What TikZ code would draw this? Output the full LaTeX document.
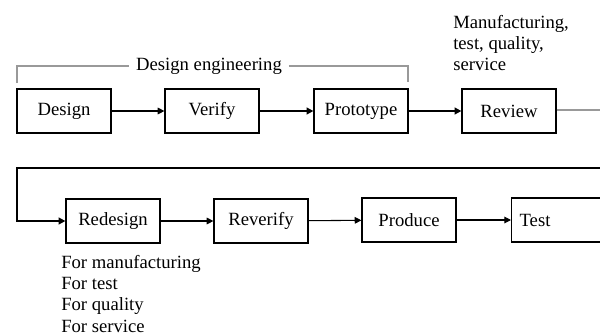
\documentclass[tikz,border=0pt]{standalone}
\usepackage{fontspec}
\setmainfont{Liberation Serif}
\usetikzlibrary{arrows.meta}
\usetikzlibrary{positioning}
\begin{document}
\begin{tikzpicture}[x=0.75pt,y=0.75pt,yscale=-1,xscale=1,
	stagebox/.style={draw, line width=0.9pt, minimum width=70.5pt, minimum height=33pt, inner sep=2pt, font=\fontsize{14}{16}\selectfont},
	flow/.style={line width=0.8pt, -{Triangle[length=5pt,width=5pt]}},
	boldflow/.style={line width=1.5pt, -{Triangle[length=5pt,width=5pt]}},
	greyline/.style={draw=gray!80, line width=0.9pt},
	note/.style={align=left, inner sep=0pt, font=\fontsize{14}{16}\selectfont}]
		\useasboundingbox (0,0) rectangle (600,333);
		
		%First row
		\node[stagebox] (Design) at (64,111) {Design};
		\node[stagebox] (Verify) at (212,111) {Verify};
		\node[stagebox] (Prototype) at (361,111) {Prototype};
		\node[stagebox] (Review) at (509,111) {Review};
		
		\draw[flow] (Design) -- (Verify);
		\draw[boldflow] (Verify) -- (Prototype);
		\draw[boldflow] (Prototype) -- (Review);
		
		%Bracket over the design steps
		\node[inner sep=5pt, font=\fontsize{14}{16}\selectfont] (DesignEng) at (209,66) {Design engineering};
		\draw[greyline] (17,83) |- (DesignEng.west);
		\draw[greyline] (DesignEng.east) -| (408,82);
		
		%base of a multi-line node = its last line
		\node[note, anchor=base west] (ReviewNote) at (453,70) {Manufacturing,\\[-0.5pt]test, quality,\\[-0.5pt]service};
		
		%Way back to the second row
		\coordinate (ReviewOut) at (600,110);
		\coordinate (LoopIn) at (600,168);
		\draw[greyline] (Review.east |- ReviewOut) -- (ReviewOut);
		
		%Second row
		\node[stagebox] (Redesign) at (113,221) {Redesign};
		\node[stagebox] (Reverify) at (261,221) {Reverify};
		\node[stagebox] (Produce) at (409,220) {Produce};
		\node[stagebox, anchor=west, text width=120pt, align=left, inner xsep=6pt] (Test) at (511,220) {Test};
		
		\draw[line width=1.3pt, -{Triangle[length=5pt,width=5pt]}] (LoopIn) -- (17,168) |- (Redesign.west);
		\draw[flow] (Redesign) -- (Reverify);
		\draw[flow] (Reverify) -- (Produce);
		\draw[flow] (Produce) -- (Test);
		
		\node[note, anchor=base west] (RedesignNote) at (61,332) {For manufacturing\\For test\\For quality\\For service};
		
	\end{tikzpicture}
\end{document}
